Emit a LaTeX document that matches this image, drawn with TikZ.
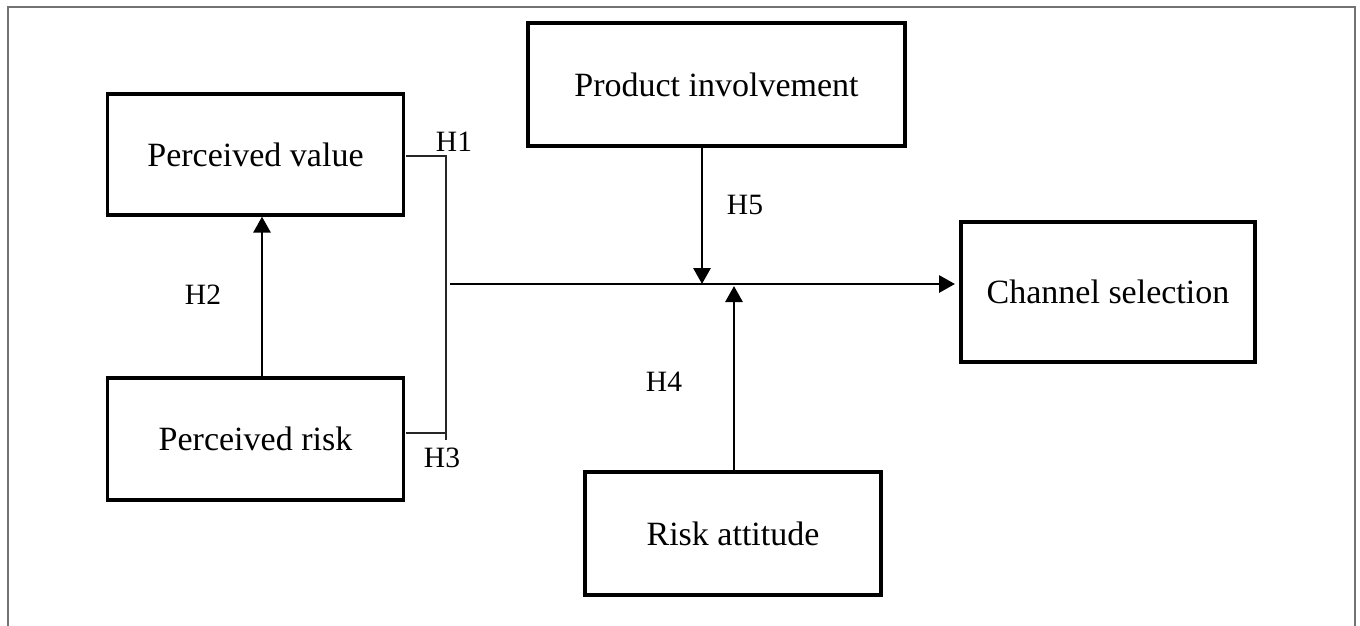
\documentclass[tikz,border=0pt]{standalone}
\usepackage{fontspec}
\setmainfont{Liberation Serif}
\usetikzlibrary{arrows.meta}
\begin{document}
\begin{tikzpicture}[x=1pt,y=-1pt,
  box/.style={draw=black,line width=3.3pt,inner sep=0pt,
    font=\fontsize{34}{40}\selectfont},
  hlab/.style={inner sep=0pt,font=\fontsize{29.5}{34}\selectfont},
  arr/.style={line width=2.9pt,-{Triangle[length=16pt,width=17pt]}},
  brk/.style={line width=1.3pt,draw=black!85}
]
\useasboundingbox (0,0) rectangle (1360,625);
\draw[line width=2pt,draw=black!55] (8,630) -- (8,7) -- (1355,7) -- (1355,630);

\node[box,minimum width=296pt,minimum height=121pt] (value) at (255.5,154.5) {Perceived value};
\node[box,minimum width=296pt,minimum height=122pt] (risk) at (255.5,439) {Perceived risk};
\node[box,minimum width=377pt,minimum height=123pt] (inv) at (716.5,84.5) {Product involvement};
\node[box,minimum width=294pt,minimum height=140pt] (chan) at (1108,292) {Channel selection};
\node[box,minimum width=296pt,minimum height=123pt] (att) at (733,533.5) {Risk attitude};

\coordinate (b1) at (406,156);
\coordinate (b2) at (446,156);
\coordinate (b3) at (446,440);
\coordinate (b4) at (446,433);
\coordinate (b5) at (406,433);
\coordinate (m0) at (450,284);
\coordinate (m1) at (955,284);
\coordinate (j5) at (702,284);
\coordinate (j4) at (734,286);

\draw[brk] (b1) -- (b2) -- (b3);
\draw[brk] (b5) -- (b4);
\draw[arr] (m0) -- (m1);
\draw[arr] (risk.north -| 262,0) -- (value.south -| 262,0);
\draw[arr] (inv.south -| j5) -- (j5);
\draw[arr] (att.north -| j4) -- (j4);

\node[hlab] (h1) at (454,142) {H1};
\node[hlab] (h2) at (203,295) {H2};
\node[hlab] (h3) at (442,458) {H3};
\node[hlab] (h4) at (664,382) {H4};
\node[hlab] (h5) at (745,205) {H5};
\end{tikzpicture}
\end{document}
